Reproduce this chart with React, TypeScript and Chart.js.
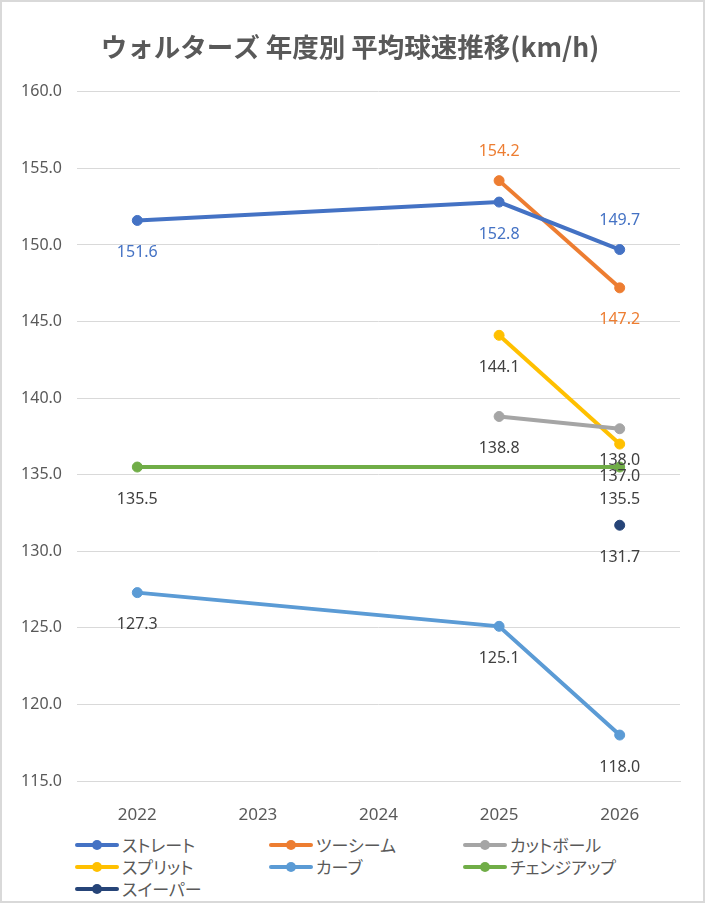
import React, { useEffect, useRef } from 'react';
import { Chart, ChartConfiguration, Plugin, registerables } from 'chart.js';

Chart.register(...registerables);

// Years on the x axis
const years = ['2022', '2023', '2024', '2025', '2026'];

// Average speed per pitch type (km/h), null = not thrown that year
const straight = [151.6, null, null, 152.8, 149.7];
const twoSeam = [null, null, null, 154.2, 147.2];
const cutter = [null, null, null, 138.8, 138.0];
const splitter = [null, null, null, 144.1, 137.0];
const curve = [127.3, null, null, 125.1, 118.0];
const changeup = [135.5, null, null, null, 135.5];
const sweeper = [null, null, null, null, 131.7];

// y axis range
const yMin = 115;
const yMax = 160;
const yStep = 5;

const TITLE = 'ウォルターズ 年度別 平均球速推移(km/h)';
const TEXT_GRAY = '#595959';
const LABEL_GRAY = '#404040';
const GRID_GRAY = '#d9d9d9';

interface Series {
  label: string;
  data: (number | null)[];
  color: string;
  labelColor: string;
  above?: boolean[];
}

const series: Series[] = [
  { label: 'ストレート', data: straight, color: '#4472C4', labelColor: '#4472C4', above: [false, false, false, false, true] },
  { label: 'ツーシーム', data: twoSeam, color: '#ED7D31', labelColor: '#ED7D31', above: [false, false, false, true, false] },
  { label: 'カットボール', data: cutter, color: '#A5A5A5', labelColor: LABEL_GRAY },
  { label: 'スプリット', data: splitter, color: '#FFC000', labelColor: LABEL_GRAY },
  { label: 'カーブ', data: curve, color: '#5B9BD5', labelColor: LABEL_GRAY },
  { label: 'チェンジアップ', data: changeup, color: '#70AD47', labelColor: LABEL_GRAY },
  { label: 'スイーパー', data: sweeper, color: '#264478', labelColor: LABEL_GRAY },
];

// Draws the value next to each point, Excel style
const pointLabels: Plugin<'line'> = {
  id: 'pointLabels',
  afterDatasetsDraw(chart) {
    const ctx = chart.ctx;
    ctx.save();
    ctx.font = '16px "Noto Sans", sans-serif';
    ctx.textAlign = 'center';
    ctx.textBaseline = 'middle';
    chart.data.datasets.forEach((ds, i) => {
      const meta = chart.getDatasetMeta(i);
      const s = series[i];
      meta.data.forEach((pt, j) => {
        const v = ds.data[j] as number | null;
        if (v == null) return;
        const above = s.above ? s.above[j] : false;
        ctx.fillStyle = s.labelColor;
        ctx.fillText(v.toFixed(1), pt.x, pt.y + (above ? -29 : 32));
      });
    });
    ctx.restore();
  },
};

function LegendItem({ s }: { s: Series }) {
  return (
    <div style={{ display: 'flex', alignItems: 'center', height: 22 }}>
      <span style={{ position: 'relative', width: 44, height: 4, borderRadius: 2, background: s.color }}>
        <span
          style={{
            position: 'absolute',
            left: 17,
            top: -3,
            width: 10,
            height: 10,
            borderRadius: '50%',
            background: s.color,
          }}
        />
      </span>
      <span
        style={{
          marginLeft: 3,
          fontSize: 17,
          fontFamily: '"Noto Sans CJK JP", sans-serif',
          fontFeatureSettings: '"palt"',
          color: TEXT_GRAY,
          lineHeight: '22px',
        }}
      >
        {s.label}
      </span>
    </div>
  );
}

export default function App() {
  const canvasRef = useRef<HTMLCanvasElement>(null);

  useEffect(() => {
    if (!canvasRef.current) return;

    const config: ChartConfiguration<'line'> = {
      type: 'line',
      data: {
        labels: years,
        datasets: series.map((s) => ({
          label: s.label,
          data: s.data,
          borderColor: s.color,
          backgroundColor: s.color,
          pointBackgroundColor: s.color,
          pointBorderColor: s.color,
          borderWidth: 4,
          pointRadius: 5,
          pointHoverRadius: 5,
          pointBorderWidth: 1,
          spanGaps: true,
          tension: 0,
        })),
      },
      options: {
        responsive: true,
        maintainAspectRatio: false,
        animation: false,
        layout: { padding: { left: 18, right: 23, top: 0, bottom: 0 } },
        plugins: {
          legend: { display: false },
          tooltip: { enabled: false },
          title: {
            display: true,
            text: TITLE,
            color: TEXT_GRAY,
            font: { family: '"Noto Sans CJK JP", sans-serif', size: 26.5, weight: 'bold' },
            padding: { top: 29, bottom: 29 },
          },
        },
        scales: {
          x: {
            offset: true,
            grid: { display: false },
            border: { display: true, color: GRID_GRAY },
            ticks: {
              color: TEXT_GRAY,
              font: { family: '"Noto Sans", sans-serif', size: 17 },
              padding: 16,
            },
            afterFit: (scale) => {
              scale.height = 51;
            },
          },
          y: {
            min: yMin,
            max: yMax,
            grid: { color: GRID_GRAY, drawTicks: false },
            border: { display: false },
            ticks: {
              stepSize: yStep,
              color: TEXT_GRAY,
              font: { family: '"Noto Sans", sans-serif', size: 16 },
              padding: 15,
              callback: (value) => Number(value).toFixed(1),
            },
            afterFit: (scale) => {
              scale.width = 57;
            },
          },
        },
      },
      plugins: [pointLabels],
    };

    const chart = new Chart(canvasRef.current, config);
    return () => {
      chart.destroy();
    };
  }, []);

  return (
    <div
      style={{
        position: 'absolute',
        left: 0,
        top: 0,
        width: 705,
        height: 903,
        boxSizing: 'border-box',
        border: `2px solid ${GRID_GRAY}`,
        background: '#fff',
      }}
    >
      <div style={{ position: 'absolute', left: 0, top: 0, width: 701, height: 830 }}>
        <canvas ref={canvasRef} />
      </div>
      <div
        style={{
          position: 'absolute',
          left: 73,
          top: 832,
          display: 'grid',
          gridTemplateColumns: '194px 194px 194px',
        }}
      >
        {series.map((s) => (
          <LegendItem key={s.label} s={s} />
        ))}
      </div>
    </div>
  );
}
